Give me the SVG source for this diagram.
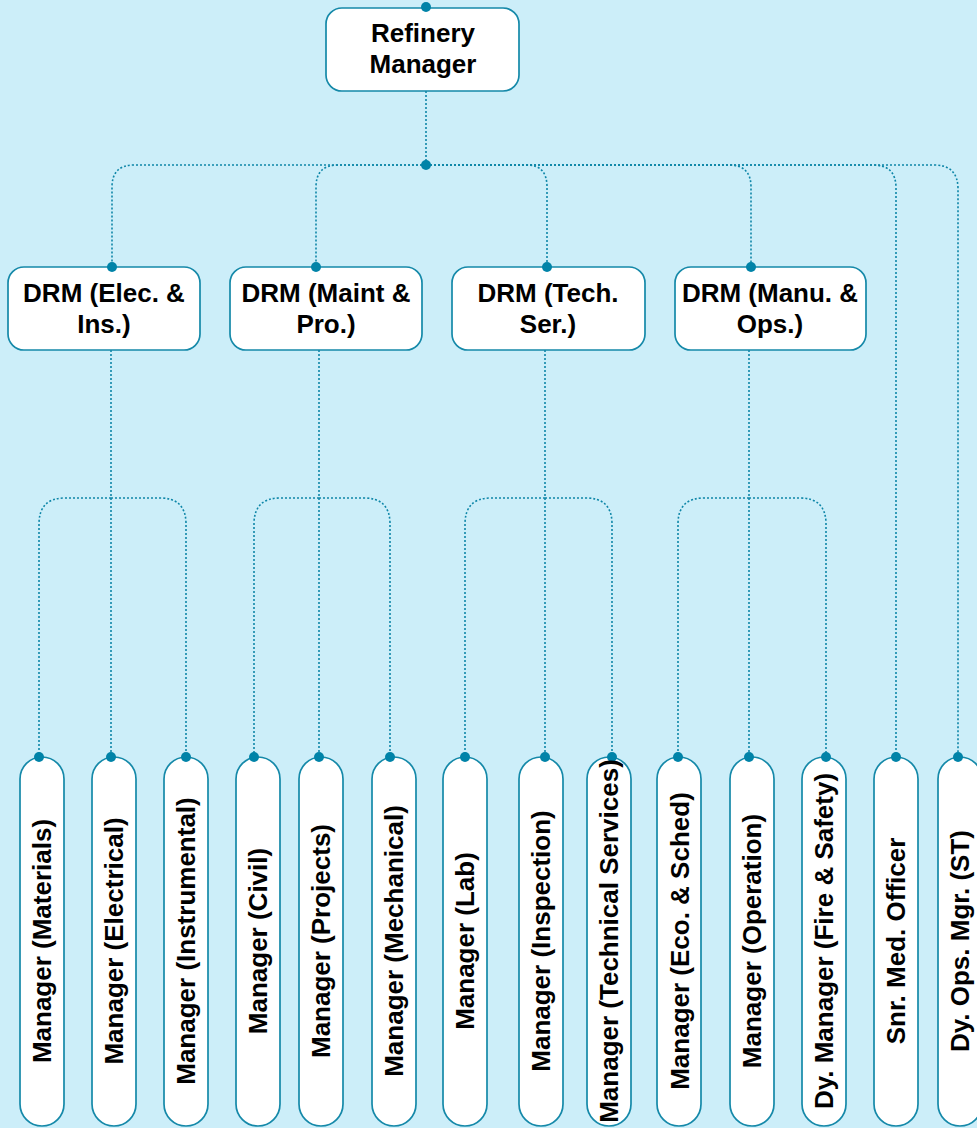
<svg xmlns="http://www.w3.org/2000/svg" width="977" height="1128" viewBox="0 0 977 1128">
<style>
.box{fill:#ffffff;stroke:#1589a9;stroke-width:1.7}
.t{font-family:"Liberation Sans",Arial,sans-serif;font-weight:bold;font-size:26px;fill:#000;text-anchor:middle}
.lt{font-family:"Liberation Sans",Arial,sans-serif;font-weight:bold;font-size:26px;fill:#000;text-anchor:middle}
.c{fill:none;stroke:#0e86a8;stroke-width:1.6;stroke-dasharray:2 2}
.d{fill:#0083a8}
</style>
<rect width="977" height="1128" fill="#cceef9"/>
<g id="connectors">
<path class="c" d="M426,91 V165"/>
<path class="c" d="M426,165 H134 Q112,165 112,187 V267"/>
<path class="c" d="M426,165 H338 Q316,165 316,187 V267"/>
<path class="c" d="M426,165 H527 Q547,165 547,187 V267"/>
<path class="c" d="M426,165 H729 Q751,165 751,187 V267"/>
<path class="c" d="M426,165 H873 Q896,165 896,188 V757"/>
<path class="c" d="M426,165 H934 Q958,165 958,189 V757"/>
<path class="c" d="M111,350 V757"/>
<path class="c" d="M111,498 H65 Q39,498 39,524 V757"/>
<path class="c" d="M111,498 H160 Q186,498 186,524 V757"/>
<path class="c" d="M319,350 V757"/>
<path class="c" d="M319,498 H280 Q254,498 254,524 V757"/>
<path class="c" d="M319,498 H364 Q390,498 390,524 V757"/>
<path class="c" d="M545,350 V757"/>
<path class="c" d="M545,498 H491 Q465,498 465,524 V757"/>
<path class="c" d="M545,498 H586 Q612,498 612,524 V757"/>
<path class="c" d="M749,350 V757"/>
<path class="c" d="M749,498 H704 Q678,498 678,524 V757"/>
<path class="c" d="M749,498 H800 Q826,498 826,524 V757"/>
<circle class="d" cx="426" cy="165" r="5"/>
</g>
<g id="n-refinery"><rect class="box" x="326" y="8" width="193" height="83" rx="16"/><circle class="d" cx="426" cy="7" r="5"/><text class="t" x="423" y="42">Refinery</text><text class="t" x="423" y="73">Manager</text></g>
<g id="n-drm1"><rect class="box" x="8" y="267" width="192" height="83" rx="16"/><circle class="d" cx="112" cy="267" r="5"/><text class="t" x="104" y="302">DRM (Elec. &amp;</text><text class="t" x="104" y="333">Ins.)</text></g>
<g id="n-drm2"><rect class="box" x="230" y="267" width="192" height="83" rx="16"/><circle class="d" cx="316" cy="267" r="5"/><text class="t" x="326" y="302">DRM (Maint &amp;</text><text class="t" x="326" y="333">Pro.)</text></g>
<g id="n-drm3"><rect class="box" x="452" y="267" width="193" height="83" rx="16"/><circle class="d" cx="547" cy="267" r="5"/><text class="t" x="548" y="302">DRM (Tech.</text><text class="t" x="548" y="333">Ser.)</text></g>
<g id="n-drm4"><rect class="box" x="675" y="267" width="191" height="83" rx="16"/><circle class="d" cx="751" cy="267" r="5"/><text class="t" x="770" y="302">DRM (Manu. &amp;</text><text class="t" x="770" y="333">Ops.)</text></g>
<g id="n-materials"><rect class="box" x="20" y="757" width="44" height="369" rx="22"/><circle class="d" cx="39" cy="757" r="5"/><text class="lt" transform="translate(42,941) rotate(-90)" y="9">Manager (Materials)</text></g>
<g id="n-electrical"><rect class="box" x="92" y="757" width="44" height="369" rx="22"/><circle class="d" cx="111" cy="757" r="5"/><text class="lt" transform="translate(114,941) rotate(-90)" y="9">Manager (Electrical)</text></g>
<g id="n-instrumental"><rect class="box" x="164" y="757" width="44" height="369" rx="22"/><circle class="d" cx="186" cy="757" r="5"/><text class="lt" transform="translate(186,941) rotate(-90)" y="9">Manager (Instrumental)</text></g>
<g id="n-civil"><rect class="box" x="236" y="757" width="44" height="369" rx="22"/><circle class="d" cx="254" cy="757" r="5"/><text class="lt" transform="translate(258,941) rotate(-90)" y="9">Manager (Civil)</text></g>
<g id="n-projects"><rect class="box" x="299" y="757" width="44" height="369" rx="22"/><circle class="d" cx="319" cy="757" r="5"/><text class="lt" transform="translate(321,941) rotate(-90)" y="9">Manager (Projects)</text></g>
<g id="n-mechanical"><rect class="box" x="372" y="757" width="44" height="369" rx="22"/><circle class="d" cx="390" cy="757" r="5"/><text class="lt" transform="translate(394,941) rotate(-90)" y="9">Manager (Mechanical)</text></g>
<g id="n-lab"><rect class="box" x="443" y="757" width="44" height="369" rx="22"/><circle class="d" cx="465" cy="757" r="5"/><text class="lt" transform="translate(465,941) rotate(-90)" y="9">Manager (Lab)</text></g>
<g id="n-inspection"><rect class="box" x="519" y="757" width="44" height="369" rx="22"/><circle class="d" cx="545" cy="757" r="5"/><text class="lt" transform="translate(541,941) rotate(-90)" y="9">Manager (Inspection)</text></g>
<g id="n-techserv"><rect class="box" x="587" y="757" width="44" height="369" rx="22"/><circle class="d" cx="612" cy="757" r="5"/><text class="lt" transform="translate(609,941) rotate(-90)" y="9">Manager (Technical Services)</text></g>
<g id="n-eco"><rect class="box" x="657" y="757" width="44" height="369" rx="22"/><circle class="d" cx="678" cy="757" r="5"/><text class="lt" transform="translate(680,941) rotate(-90)" y="9">Manager (Eco. &amp; Sched)</text></g>
<g id="n-operation"><rect class="box" x="730" y="757" width="44" height="369" rx="22"/><circle class="d" cx="749" cy="757" r="5"/><text class="lt" transform="translate(752,941) rotate(-90)" y="9">Manager (Operation)</text></g>
<g id="n-fire"><rect class="box" x="802" y="757" width="44" height="369" rx="22"/><circle class="d" cx="826" cy="757" r="5"/><text class="lt" transform="translate(824,941) rotate(-90)" y="9">Dy. Manager (Fire &amp; Safety)</text></g>
<g id="n-snrmed"><rect class="box" x="874" y="757" width="44" height="369" rx="22"/><circle class="d" cx="896" cy="757" r="5"/><text class="lt" transform="translate(896,941) rotate(-90)" y="9">Snr. Med. Officer</text></g>
<g id="n-dyops"><rect class="box" x="938" y="757" width="44" height="369" rx="22"/><circle class="d" cx="958" cy="757" r="5"/><text class="lt" transform="translate(960,941) rotate(-90)" y="9">Dy. Ops. Mgr. (ST)</text></g>
</svg>
